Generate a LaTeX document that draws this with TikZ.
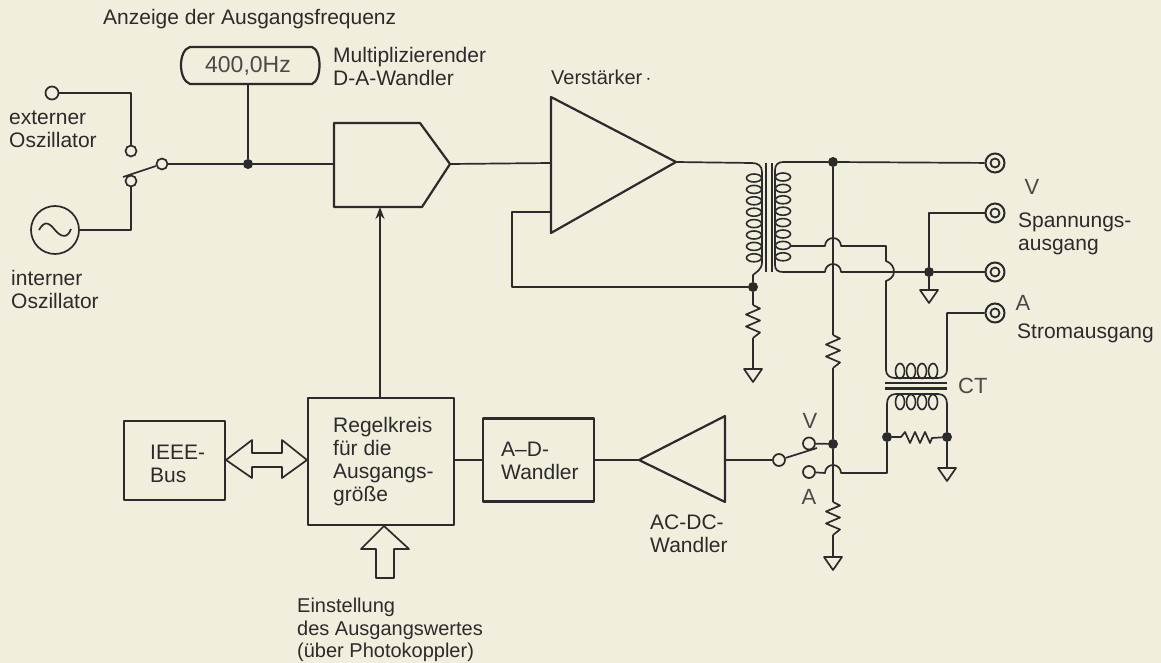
\documentclass[tikz,border=0pt]{standalone}
\usepackage{fontspec}
\usetikzlibrary{arrows.meta}
\setmainfont{Liberation Sans}
\definecolor{paper}{HTML}{F2EEDD}
\definecolor{ink}{HTML}{2B2B2B}
\definecolor{thinink}{HTML}{4A4A48}
\tikzset{
  x=1pt,y=-1pt,
  wire/.style={draw=ink,line width=1.7pt,line join=round},
  coil/.style={draw=ink,line width=1.6pt},
  boxx/.style={draw=ink,line width=2.2pt,fill=none,line join=round},
  term/.style={circle,draw=ink,line width=1.7pt,fill=paper,minimum size=12pt,inner sep=0pt},
  outer/.style={circle,draw=ink,line width=2pt,fill=paper,minimum size=19pt,inner sep=0pt},
  inner/.style={circle,draw=ink,line width=1.8pt,fill=paper,minimum size=9pt,inner sep=0pt},
  dot/.style={circle,fill=ink,minimum size=10pt,inner sep=0pt},
  lab/.style={text=ink,font=\fontsize{21}{23}\selectfont,align=left,inner sep=0pt},
  lab2/.style={text=ink,font=\fontsize{20}{22.5}\selectfont,align=left,inner sep=0pt},
  big/.style={text=thinink,font=\fontsize{22}{24}\selectfont,inner sep=0pt},
  gnd/.style={wire,fill=paper},
}
\newcommand{\gndat}[2]{\draw[gnd] (#1-9,#2) -- (#1+9,#2) -- (#1,#2+13) -- cycle;}
\newcommand{\resv}[3]{\draw[wire] (#1,#2) -- ++(7,3.5) -- ++(-14,6) -- ++(14,6) -- ++(-14,6) -- ++(14,6) -- (#1,#3);}
\begin{document}
\begin{tikzpicture}
\path[fill=paper] (0,0) rectangle (1161,663);
\useasboundingbox (0,0) rectangle (1161,663);
% nodes
\node[term,minimum size=13pt] (ext) at (52,93) {};
\node[term,minimum size=11pt] (c1) at (131,151) {};
\node[term,minimum size=11pt] (c2) at (131,181) {};
\node[term,minimum size=11pt] (pole) at (162,164) {};
\node[circle,draw=ink,line width=1.7pt,minimum size=48pt,inner sep=0pt] (osc) at (55,230) {};
\node[dot] (j1) at (248,164) {};
\draw[wire] (ext) -| (c1);
\draw[wire] (osc.east) -| (c2);
\draw[wire] (123,177) -- (pole);
\draw[wire] (pole) -- (j1);
\draw[wire] (39,230) .. controls (45,219) and (50,224) .. (55,230) .. controls (60,236) and (67,240) .. (71,229);
\node[inner sep=0pt,minimum size=1pt] (disp) at (248,84) {};
\draw[boxx] (190,47) -- (312,47) .. controls (322,50) and (322,80) .. (312,84) -- (190,84) .. controls (178,80) and (178,50) .. (190,47) -- cycle;
\node[big] at (248,66) {\fontsize{23}{24}\selectfont 400,0Hz};
\draw[wire] (j1) -- (disp);
\draw[boxx] (334,123) -- (420,123) -- (450,164) -- (422,207) -- (334,207) -- cycle;
\coordinate (dacin) at (334,164);
\coordinate (dacout) at (450,164);
\draw[wire] (j1) -- (dacin);
\draw[boxx] (551,97) -- (676,162) -- (551,233) -- cycle;
\coordinate (ampin) at (551,163);
\draw[wire] (dacout) -- (ampin);
\node[dot] (j2) at (753,287) {};
\draw[wire] (551,212) -- (512,212) |- (j2);
% primary
\draw[wire] (676,162) -- (752,163) .. controls (758,163) and (762,166) .. (762,172) -- (762,262) .. controls (762,270) and (756,272) .. (753,275) -- (j2);
\foreach \y in {178,189.4,200.8,212.2,223.6,235,246.4,257.8}
  \draw[coil] (754,\y) ellipse (7.5 and 4);
% core
\draw[wire,line width=2pt] (766,163) -- (766,272) (771.5,163) -- (771.5,272);
% secondary
\node[dot] (j3) at (833,162) {};
\node[outer] (o1) at (995,163) {};
\node[inner] at (995,163) {};
\node[outer] (o2) at (995,213) {};
\node[inner] at (995,213) {};
\node[outer] (o3) at (995,272) {};
\node[inner] at (995,272) {};
\node[outer] (o4) at (995,313) {};
\node[inner] at (995,313) {};
\node[dot] (j4) at (929,272) {};
\node[dot] (j5) at (833,444) {};
\node[dot] (j6) at (887,437) {};
\node[dot] (j7) at (947,437) {};
\draw[wire] (j3) -- (o1);
\draw[wire] (j3) -- (833,335);
\draw[wire] (j3) -- (783,162) .. controls (778,162) and (775,165) .. (775,170) -- (775,265) .. controls (775,270) and (778,272) .. (783,272) -- (825,272) arc (180:360:8) -- (j4);
\draw[wire] (j4) -- (o3);
\draw[wire] (o2) -- (929,213) -- (j4);
\foreach \y in {177,188.4,199.8,211.2,222.6,234,245.4,256.8}
  \draw[coil] (783,\y) ellipse (7.5 and 4);
\draw[wire] (790,246) -- (825,246) arc (180:360:8) -- (886,246) -- (886,261) .. controls (892,263) and (894,268) .. (894,272) .. controls (894,277) and (889,280) .. (886,281) -- (886,370) .. controls (886,375) and (890,378) .. (895,378) -- (938,378) .. controls (943,378) and (947,375) .. (947,370) -- (947,313) -- (o4);
\foreach \x in {900,911,922,933}
  \draw[coil] (\x,371) ellipse (4.5 and 7.5);
\resv{833}{335}{368}
\draw[wire] (833,368) -- (j5);
\draw[wire] (j5) -- (833,502);
\resv{833}{502}{535}
\draw[wire] (833,535) -- (833,557);
\gndat{833}{557}
\gndat{929}{290}
\draw[wire] (j4) -- (929,290);
\resv{753}{305}{338}
\draw[wire] (j2) -- (753,305) (753,338) -- (753,369);
\gndat{753}{369}
% CT
\draw[boxx] (885,383) -- (947,383) (885,388.5) -- (947,388.5);
\draw[wire] (j6) -- (887,404) .. controls (887,398) and (890,394) .. (896,394) -- (938,394) .. controls (944,394) and (947,398) .. (947,404) -- (j7);
\foreach \x in {900,911,922,933}
  \draw[coil] (\x,402) ellipse (4.5 and 7.5);
\draw[wire] (j6) -- (901,437) -- ++(4,-5) -- ++(5,11) -- ++(5,-11) -- ++(5,11) -- ++(5,-11) -- ++(5,11) -- ++(2,-5) -- (j7);
\draw[wire] (j7) -- (947,468);
\gndat{947}{468}
% V A switch
\node[term] (vc) at (809,443.5) {};
\node[term] (ac) at (809,472) {};
\node[term] (pole2) at (779,460) {};
\draw[wire] (vc) -- (j5);
\draw[wire] (pole2) -- (817,448);
\draw[wire] (ac) -- (825,473) arc (180:360:8) -- (887,473) -- (j6);
% lower blocks
\node[boxx,minimum width=146pt,minimum height=127pt,inner sep=0pt] (reg) at (381,461.5) {};
\node[boxx,minimum width=111pt,minimum height=83pt,inner sep=0pt] (ad) at (538.5,460) {};
\node[boxx,minimum width=101pt,minimum height=79pt,inner sep=0pt] (ieee) at (174.5,460.5) {};
\draw[boxx] (725,416) -- (639,460) -- (725,502) -- cycle;
\coordinate (acin) at (725,460);
\coordinate (acout) at (639,460);
\draw[wire] (reg.east |- ad.west) -- (ad.west);
\draw[wire] (ad.east) -- (acout);
\draw[wire] (acin) -- (pole2);
\draw[wire,-{Stealth[length=12pt,width=9pt]}] (reg.north -| 380,0) -- (380,207);
% hollow arrows
\draw[wire,fill=paper] (226,460) -- (252,440) -- (252,453) -- (282,453) -- (282,440) -- (307,460) -- (282,478) -- (282,467) -- (252,467) -- (252,478) -- cycle;
\draw[wire,fill=paper] (384,526) -- (409,549) -- (394,549) -- (394,578) -- (376,578) -- (376,549) -- (361,549) -- cycle;
% text
\node[lab,anchor=west] at (103,19) {Anzeige der Ausgangsfrequenz};
\node[lab,anchor=north west] at (333,47) {Multiplizierender\\D-A-Wandler};
\node[lab2,anchor=west] at (551,77) {Verstärker\,$\cdot$};
\node[lab,anchor=north west] at (9,111) {externer\\Oszillator};
\node[lab,anchor=north west] at (11,270) {interner\\Oszillator};
\node[lab,anchor=north west] at (1018,213) {Spannungs-\\ausgang};
\node[big,anchor=center] at (1032,187) {V};
\node[big,anchor=center] at (1023,303) {A};
\node[lab,anchor=west] at (1017,333) {Stromausgang};
\node[big,anchor=west] at (958,386) {CT};
\node[big,anchor=center] at (810,421) {V};
\node[big,anchor=center] at (809,497) {A};
\node[lab,anchor=north west] at (333,417) {Regelkreis\\für die\\Ausgangs-\\größe};
\node[lab,anchor=west] at (501,461) {A--D-\\Wandler};
\node[lab,anchor=north west] at (150,445) {IEEE-\\Bus};
\node[lab,anchor=north west] at (650,515) {AC-DC-\\Wandler};
\node[lab2,anchor=north west] at (297,598) {Einstellung\\des Ausgangswertes\\(über Photokoppler)};
\end{tikzpicture}
\end{document}
